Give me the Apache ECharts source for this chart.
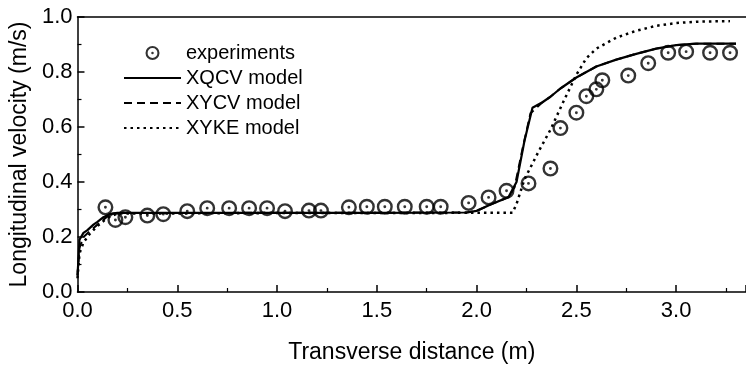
<!DOCTYPE html>
<html>
<head>
<meta charset="utf-8">
<script src="https://cdn.jsdelivr.net/npm/echarts@6/dist/echarts.min.js"></script>
<style>
  html, body { margin: 0; padding: 0; background: #fff; }
  #main { width: 746px; height: 369px; }
</style>
</head>
<body>
<div id="main"></div>
<script>
var expX = [0.14, 0.19, 0.24, 0.35, 0.43, 0.55, 0.65, 0.76, 0.86, 0.95, 1.04, 1.16, 1.22,
            1.36, 1.45, 1.54, 1.64, 1.75, 1.82, 1.96, 2.06, 2.15, 2.26, 2.37, 2.42, 2.50,
            2.55, 2.60, 2.63, 2.76, 2.86, 2.96, 3.05, 3.17, 3.27];
var expY = [0.308, 0.262, 0.272, 0.278, 0.283, 0.294, 0.305, 0.305, 0.305, 0.305, 0.294, 0.296, 0.296,
            0.308, 0.310, 0.310, 0.310, 0.310, 0.310, 0.324, 0.344, 0.368, 0.395, 0.449, 0.596, 0.652,
            0.712, 0.737, 0.770, 0.787, 0.832, 0.870, 0.874, 0.870, 0.870];

// model curves
var xqcvX = [0, 0.005, 0.01, 0.03, 0.05, 0.08, 0.10, 0.13, 0.16, 0.20, 0.5, 1.0, 1.5, 1.95, 2.0,
             2.07, 2.16, 2.20, 2.24, 2.28, 2.33, 2.37, 2.42, 2.50, 2.60, 2.70, 2.80, 2.90, 3.00, 3.10, 3.30];
var xqcvY = [0.06, 0.12, 0.19, 0.215, 0.225, 0.245, 0.255, 0.272, 0.283, 0.288, 0.288, 0.288, 0.288, 0.289, 0.295,
             0.318, 0.345, 0.40, 0.55, 0.67, 0.69, 0.71, 0.74, 0.78, 0.82, 0.845, 0.866, 0.885, 0.898, 0.903, 0.903];

var xycvX = [0, 0.01, 0.03, 0.06, 0.10, 0.15, 0.20, 1.0, 1.95, 2.0, 2.07, 2.16, 2.19, 2.23, 2.27,
             2.33, 2.37, 2.42, 2.50, 2.60, 2.70, 2.80, 2.90, 3.00, 3.10, 3.30];
var xycvY = [0.06, 0.16, 0.20, 0.22, 0.245, 0.275, 0.287, 0.288, 0.289, 0.295, 0.318, 0.345, 0.38, 0.52, 0.65,
             0.69, 0.71, 0.74, 0.78, 0.82, 0.845, 0.866, 0.885, 0.898, 0.903, 0.903];

var xykeX = [0, 0.01, 0.03, 0.06, 0.10, 0.15, 0.20, 1.0, 2.18, 2.20, 2.24, 2.31, 2.37, 2.44, 2.50,
             2.55, 2.60, 2.70, 2.80, 2.90, 3.00, 3.10, 3.27];
var xykeY = [0.05, 0.14, 0.18, 0.21, 0.24, 0.27, 0.285, 0.287, 0.288, 0.32, 0.41, 0.51, 0.59, 0.70, 0.79,
             0.85, 0.885, 0.925, 0.95, 0.968, 0.978, 0.983, 0.985];

var xTicks = [0, 0.5, 1.0, 1.5, 2.0, 2.5, 3.0];
var yTicks = [0, 0.2, 0.4, 0.6, 0.8, 1.0];

function pairs(xs, ys) {
  return xs.map(function (x, i) { return [x, ys[i]]; });
}

var font = "'Liberation Sans', Arial, sans-serif";
// ring with a dot in the middle
var dotCircle = 'path://M0,-10A10,10 0 1,1 0,10A10,10 0 1,1 0,-10Z' +
  'M0,-7A7,7 0 1,0 0,7A7,7 0 1,0 0,-7Z' +
  'M0,-1.8A1.8,1.8 0 1,1 0,1.8A1.8,1.8 0 1,1 0,-1.8Z';

var myChart = echarts.init(document.getElementById('main'));
myChart.setOption({
  animation: false,
  backgroundColor: '#fff',
  grid: { left: 73, right: 0, top: 17, bottom: 74.5 },
  legend: {
    orient: 'vertical',
    left: 118,
    top: 38,
    itemWidth: 57,
    itemHeight: 14,
    itemGap: 5,
    textStyle: { fontFamily: font, fontSize: 20, color: '#000', lineHeight: 20 },
    data: [
      'experiments',
      { name: 'XQCV model', itemStyle: { opacity: 0 } },
      { name: 'XYCV model', itemStyle: { opacity: 0 } },
      { name: 'XYKE model', itemStyle: { opacity: 0 } }
    ]
  },
  xAxis: [{
    type: 'value',
    min: 0,
    max: 3.35,
    interval: 0.5,
    name: 'Transverse distance (m)',
    nameLocation: 'middle',
    nameGap: 49,
    nameTextStyle: { fontFamily: font, fontSize: 23, color: '#000' },
    axisLine: { show: true, lineStyle: { color: '#000', width: 1.5 } },
    axisTick: { inside: true, length: 7, lineStyle: { color: '#000', width: 1.5 } },
    minorTick: { show: true, splitNumber: 2, length: 4, lineStyle: { color: '#000', width: 1.2 } },
    axisLabel: {
      margin: 8, fontFamily: font, fontSize: 22, color: '#000', showMaxLabel: false,
      formatter: function (v) { return xTicks.indexOf(+v.toFixed(2)) >= 0 ? v.toFixed(1) : ''; }
    },
    splitLine: { show: false }
  }, {
    type: 'value',
    position: 'top',
    min: 0,
    max: 3.35,
    axisLine: { show: true, lineStyle: { color: '#000', width: 1.5 } },
    axisTick: { show: false },
    axisLabel: { show: false },
    splitLine: { show: false }
  }],
  yAxis: {
    type: 'value',
    min: 0,
    max: 1,
    interval: 0.2,
    name: 'Longitudinal velocity (m/s)',
    nameLocation: 'middle',
    nameGap: 41,
    nameTextStyle: { fontFamily: font, fontSize: 23, color: '#000' },
    axisLine: { show: true, lineStyle: { color: '#000', width: 1.5 } },
    axisTick: { inside: true, length: 7, lineStyle: { color: '#000', width: 1.5 } },
    minorTick: { show: true, splitNumber: 2, length: 4, lineStyle: { color: '#000', width: 1.2 } },
    axisLabel: {
      margin: 5, fontFamily: font, fontSize: 22, color: '#000',
      formatter: function (v) { return yTicks.indexOf(+v.toFixed(2)) >= 0 ? v.toFixed(1) : ''; }
    },
    splitLine: { show: false }
  },
  series: [
    {
      name: 'XQCV model',
      type: 'line',
      data: pairs(xqcvX, xqcvY),
      symbol: 'none',
      color: '#000',
      lineStyle: { color: '#000', width: 2.2, type: 'solid' },
      z: 3
    },
    {
      name: 'XYCV model',
      type: 'line',
      data: pairs(xycvX, xycvY),
      symbol: 'none',
      color: '#000',
      lineStyle: { color: '#000', width: 2, type: [8, 5] },
      z: 2
    },
    {
      name: 'XYKE model',
      type: 'line',
      data: pairs(xykeX, xykeY),
      symbol: 'none',
      color: '#000',
      lineStyle: { color: '#000', width: 2.5, type: [2.5, 4] },
      z: 2
    },
    {
      name: 'experiments',
      type: 'scatter',
      data: pairs(expX, expY),
      symbol: dotCircle,
      symbolSize: 16,
      symbolKeepAspect: true,
      itemStyle: { color: '#000' },
      z: 5
    }
  ]
});
</script>
</body>
</html>
